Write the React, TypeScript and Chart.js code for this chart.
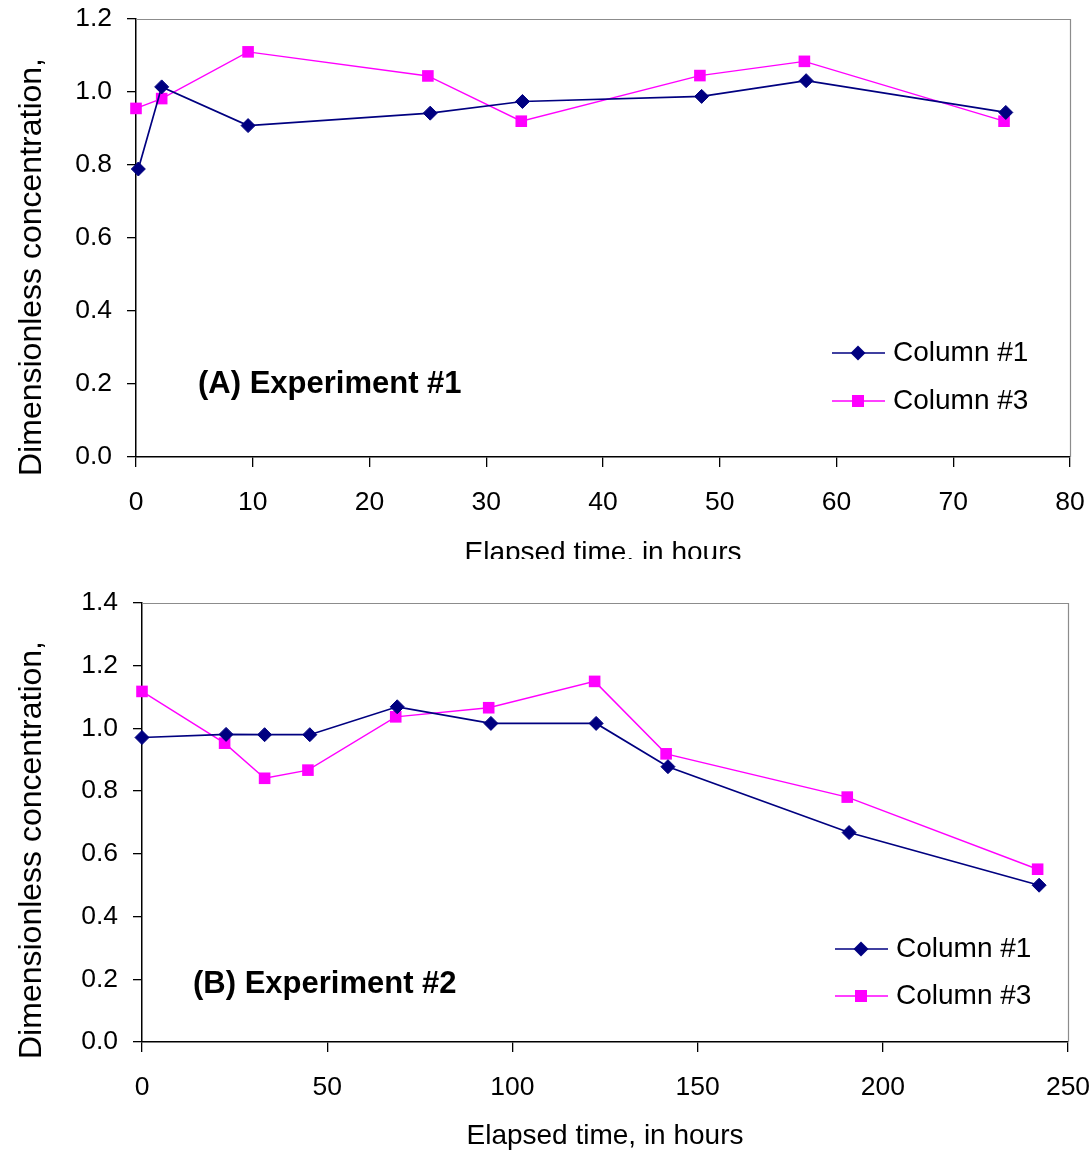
import React, { useEffect, useRef } from "react";
import { Chart, registerables } from "chart.js";

Chart.register(...registerables);

// ---------- Data ----------
const seriesLabels = ["Column #1", "Column #3"];
const panelLabels = ["(A) Experiment #1", "(B) Experiment #2"];
const yAxisTitle = "Dimensionless concentration,";
const xAxisTitle = "Elapsed time, in hours";

// Experiment #1
const expATimeCol1 = [0.2, 2.2, 9.6, 25.2, 33.1, 48.45, 57.4, 74.5];
const expAConcCol1 = [0.789, 1.014, 0.908, 0.942, 0.974, 0.988, 1.031, 0.944];
const expATimeCol3 = [0, 2.2, 9.6, 25.0, 33.0, 48.3, 57.25, 74.35];
const expAConcCol3 = [0.955, 0.982, 1.11, 1.044, 0.92, 1.045, 1.084, 0.92];

// Experiment #2
const expBTimeCol1 = [0, 22.7, 33.1, 45.3, 68.9, 94.2, 122.6, 142.0, 190.9, 242.2];
const expBConcCol1 = [0.971, 0.981, 0.98, 0.98, 1.069, 1.016, 1.016, 0.878, 0.668, 0.5];
const expBTimeCol3 = [0, 22.3, 33.1, 44.8, 68.5, 93.6, 122.2, 141.5, 190.4, 241.8];
const expBConcCol3 = [1.118, 0.953, 0.841, 0.867, 1.037, 1.066, 1.15, 0.919, 0.781, 0.551];

// Axis ranges
const expAXMax = 80;
const expAXStep = 10;
const expAYMax = 1.2;
const expBXMax = 250;
const expBXStep = 50;
const expBYMax = 1.4;
const yStep = 0.2;

// ---------- Styling ----------
const FONT = "'Liberation Sans', Arial, Helvetica, sans-serif";
const NAVY = "#000080";
const MAGENTA = "#FF00FF";
const CANVAS_W = 1091;
const CANVAS_H = 593;

type PanelCfg = {
  label: string;
  t1: number[];
  c1: number[];
  t3: number[];
  c3: number[];
  xMax: number;
  xStep: number;
  yMax: number;
  areaLeft: number;
  areaRight: number;
  areaTop: number;
  areaBottom: number;
  xTitlePad: number;
  yTitleX: number;
  yTitleY: number;
  legendX: number;
  legendY1: number;
  legendY2: number;
  labelX: number;
  labelY: number;
};

const panelA: PanelCfg = {
  label: panelLabels[0],
  t1: expATimeCol1,
  c1: expAConcCol1,
  t3: expATimeCol3,
  c3: expAConcCol3,
  xMax: expAXMax,
  xStep: expAXStep,
  yMax: expAYMax,
  areaLeft: 136,
  areaRight: 1070,
  areaTop: 19,
  areaBottom: 457,
  xTitlePad: 26,
  yTitleX: 32,
  yTitleY: 267,
  legendX: 832,
  legendY1: 353,
  legendY2: 401,
  labelX: 198,
  labelY: 384,
};

const panelB: PanelCfg = {
  label: panelLabels[1],
  t1: expBTimeCol1,
  c1: expBConcCol1,
  t3: expBTimeCol3,
  c3: expBConcCol3,
  xMax: expBXMax,
  xStep: expBXStep,
  yMax: expBYMax,
  areaLeft: 142,
  areaRight: 1068,
  areaTop: 44,
  areaBottom: 483,
  xTitlePad: 2,
  yTitleX: 32,
  yTitleY: 291,
  legendX: 835,
  legendY1: 390,
  legendY2: 437,
  labelX: 193,
  labelY: 425,
};

function drawDiamond(ctx: CanvasRenderingContext2D, x: number, y: number, r: number, color: string) {
  ctx.beginPath();
  ctx.moveTo(x, y - r);
  ctx.lineTo(x + r, y);
  ctx.lineTo(x, y + r);
  ctx.lineTo(x - r, y);
  ctx.closePath();
  ctx.fillStyle = color;
  ctx.fill();
}

function drawSquare(ctx: CanvasRenderingContext2D, x: number, y: number, h: number, color: string) {
  ctx.fillStyle = color;
  ctx.fillRect(x - h, y - h, 2 * h, 2 * h);
}

function buildChart(canvas: HTMLCanvasElement, cfg: PanelCfg) {
  const toPts = (xs: number[], ys: number[]) => xs.map((x, i) => ({ x, y: ys[i] }));

  const decor = {
    id: "decor",
    beforeDatasetsDraw(chart: any) {
      const { ctx, chartArea: a } = chart;
      ctx.save();
      ctx.strokeStyle = "#8c8c8c";
      ctx.lineWidth = 1.2;
      ctx.beginPath();
      ctx.moveTo(a.left, a.top + 0.5);
      ctx.lineTo(a.right + 0.5, a.top + 0.5);
      ctx.lineTo(a.right + 0.5, a.bottom);
      ctx.stroke();
      ctx.restore();
    },
    afterDraw(chart: any) {
      const { ctx } = chart;
      ctx.save();
      // y-axis title
      ctx.translate(cfg.yTitleX, cfg.yTitleY);
      ctx.rotate(-Math.PI / 2);
      ctx.fillStyle = "#000";
      ctx.font = `32px ${FONT}`;
      ctx.textAlign = "center";
      ctx.textBaseline = "middle";
      ctx.fillText(yAxisTitle, 0, 0);
      ctx.restore();

      // panel label
      ctx.save();
      ctx.fillStyle = "#000";
      ctx.font = `bold 31px ${FONT}`;
      ctx.textAlign = "left";
      ctx.textBaseline = "middle";
      ctx.fillText(cfg.label, cfg.labelX, cfg.labelY);
      ctx.restore();

      // legend
      const ds = chart.data.datasets;
      const rows = [cfg.legendY1, cfg.legendY2];
      ds.forEach((d: any, i: number) => {
        const y = rows[i];
        ctx.save();
        ctx.strokeStyle = d.borderColor;
        ctx.lineWidth = d.borderWidth;
        ctx.beginPath();
        ctx.moveTo(cfg.legendX, y);
        ctx.lineTo(cfg.legendX + 53, y);
        ctx.stroke();
        if (i === 0) drawDiamond(ctx, cfg.legendX + 26, y, 7.5, d.pointBackgroundColor);
        else drawSquare(ctx, cfg.legendX + 26, y, 6, d.pointBackgroundColor);
        ctx.fillStyle = "#000";
        ctx.font = `28px ${FONT}`;
        ctx.textAlign = "left";
        ctx.textBaseline = "middle";
        ctx.fillText(d.label, cfg.legendX + 61, y);
        ctx.restore();
      });
    },
  };

  const tickFont = { family: FONT, size: 26.5 };

  return new Chart(canvas, {
    type: "line",
    data: {
      datasets: [
        {
          label: seriesLabels[0],
          data: toPts(cfg.t1, cfg.c1),
          borderColor: NAVY,
          backgroundColor: NAVY,
          pointBackgroundColor: NAVY,
          pointBorderColor: NAVY,
          borderWidth: 1.7,
          pointStyle: "rectRot",
          pointRadius: 7,
          pointBorderWidth: 1,
          tension: 0,
          clip: false,
        },
        {
          label: seriesLabels[1],
          data: toPts(cfg.t3, cfg.c3),
          borderColor: MAGENTA,
          backgroundColor: MAGENTA,
          pointBackgroundColor: MAGENTA,
          pointBorderColor: MAGENTA,
          borderWidth: 1.4,
          pointStyle: "rect",
          pointRadius: 8.2,
          pointBorderWidth: 0,
          tension: 0,
          clip: false,
        },
      ],
    },
    options: {
      responsive: false,
      animation: false,
      events: [],
      layout: {
        autoPadding: false,
        padding: {
          left: 0,
          right: CANVAS_W - cfg.areaRight,
          top: cfg.areaTop,
          bottom: 0,
        },
      },
      plugins: {
        legend: { display: false },
        tooltip: { enabled: false },
        title: { display: false },
      },
      scales: {
        x: {
          type: "linear",
          min: 0,
          max: cfg.xMax,
          ticks: {
            stepSize: cfg.xStep,
            color: "#000",
            font: tickFont,
            padding: 20,
            maxRotation: 0,
            autoSkip: false,
          },
          grid: {
            display: true,
            drawOnChartArea: false,
            drawTicks: true,
            tickLength: 10,
            color: "#000",
            lineWidth: 1.3,
          },
          border: { display: true, color: "#000", width: 1.5 },
          title: {
            display: true,
            text: xAxisTitle,
            color: "#000",
            font: { family: FONT, size: 28, lineHeight: 1 },
            padding: { top: 0, bottom: cfg.xTitlePad },
          },
          afterFit: (s: any) => {
            s.height = CANVAS_H - cfg.areaBottom;
            s.paddingLeft = 0;
            s.paddingRight = 0;
          },
        },
        y: {
          type: "linear",
          min: 0,
          max: cfg.yMax,
          ticks: {
            stepSize: yStep,
            color: "#000",
            font: tickFont,
            padding: 15,
            callback: (v: any) => Number(v).toFixed(1),
          },
          grid: {
            display: true,
            drawOnChartArea: false,
            drawTicks: true,
            tickLength: 9,
            color: "#000",
            lineWidth: 1.3,
          },
          border: { display: true, color: "#000", width: 1.5 },
          title: { display: false },
          afterFit: (s: any) => {
            s.width = cfg.areaLeft;
            s.paddingTop = 0;
            s.paddingBottom = 0;
          },
        },
      },
    } as any,
    plugins: [decor],
  });
}

export default function App() {
  const refA = useRef<HTMLCanvasElement | null>(null);
  const refB = useRef<HTMLCanvasElement | null>(null);

  useEffect(() => {
    const a = refA.current ? buildChart(refA.current, panelA) : null;
    const b = refB.current ? buildChart(refB.current, panelB) : null;
    return () => {
      a?.destroy();
      b?.destroy();
    };
  }, []);

  return (
    <div
      style={{
        position: "absolute",
        left: 0,
        top: 0,
        width: CANVAS_W,
        height: 1152,
        overflow: "hidden",
        background: "#fff",
      }}
    >
      <div style={{ position: "absolute", left: 0, top: 0, width: CANVAS_W, height: CANVAS_H }}>
        <canvas ref={refA} width={CANVAS_W} height={CANVAS_H} style={{ display: "block" }} />
      </div>
      <div
        style={{
          position: "absolute",
          left: 0,
          top: 559,
          width: CANVAS_W,
          height: CANVAS_H,
          background: "#fff",
        }}
      >
        <canvas ref={refB} width={CANVAS_W} height={CANVAS_H} style={{ display: "block" }} />
      </div>
    </div>
  );
}
